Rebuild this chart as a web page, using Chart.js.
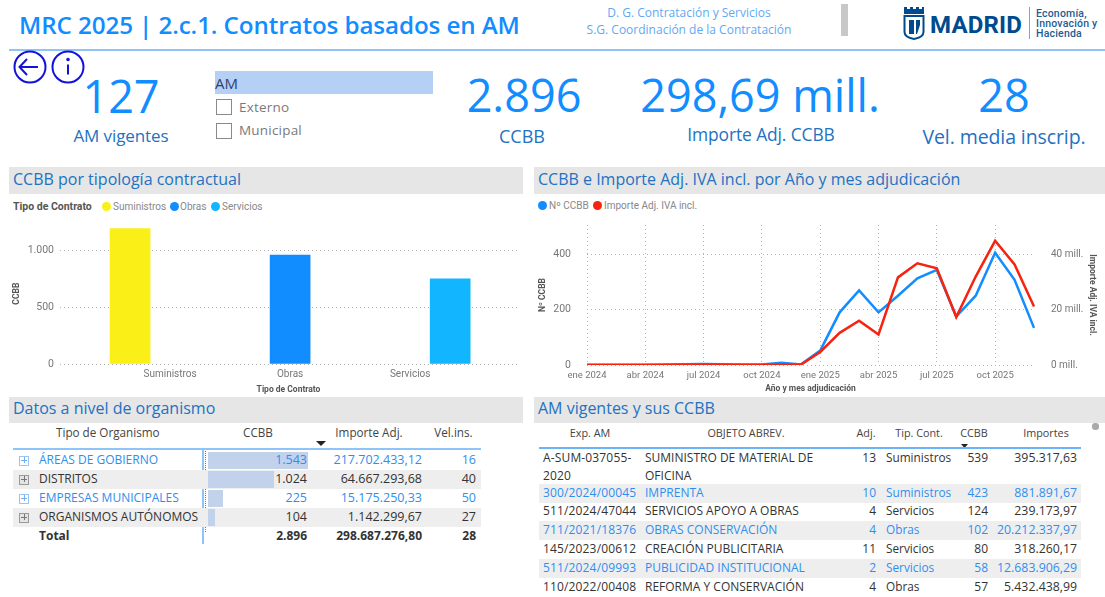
<!DOCTYPE html>
<html lang="es">
<head>
<meta charset="utf-8">
<script src="https://cdn.jsdelivr.net/npm/chart.js@4"></script>
<style>
html,body{margin:0;padding:0;background:#fff;width:1105px;height:597px;overflow:hidden;font-family:"Open Sans",sans-serif}
.t{position:absolute;white-space:nowrap;line-height:1}
.box{position:absolute}
canvas{position:absolute}
</style>
</head>
<body>
<div id="page"></div>
<canvas id="barChart" style="left:8px;top:211px;width:516px;height:185px"></canvas>
<canvas id="lineChart" style="left:530px;top:202px;width:575px;height:194px"></canvas>
<script>
const FONT = '"Open Sans",sans-serif';
const AXISFONT = 'Roboto,sans-serif';

// bar chart
const contractTypes = ['Suministros', 'Obras', 'Servicios'];
const contractCounts = [1190, 957, 749];
const contractColors = ['#FBEF18', '#118DFF', '#12B5FF'];

// line chart
const months = ['ene 2024','feb 2024','mar 2024','abr 2024','may 2024','jun 2024','jul 2024','ago 2024','sep 2024','oct 2024','nov 2024','dic 2024',
                'ene 2025','feb 2025','mar 2025','abr 2025','may 2025','jun 2025','jul 2025','ago 2025','sep 2025','oct 2025','nov 2025','dic 2025'];
const ccbbMonthly = [1,1,1,1,2,3,4,3,2,2,8,2,52,190,269,190,250,313,343,175,250,405,307,134];
const importeMonthly = [0,0,0,0,0,0,0.1,0,0,0,0.1,0.1,4.7,11.6,16,11,31.6,36.7,34.9,17.3,31.9,44.8,36.3,21.1];

// organism table
const orgHeaders = ['Tipo de Organismo','CCBB','Importe Adj.','Vel.ins.'];
const orgNames = ['ÁREAS DE GOBIERNO','DISTRITOS','EMPRESAS MUNICIPALES','ORGANISMOS AUTÓNOMOS'];
const orgCcbb = [1543,1024,225,104];
const orgImporte = ['217.702.433,12','64.667.293,68','15.175.250,33','1.142.299,67'];
const orgVel = [16,40,50,27];
const orgTotal = ['Total','2.896','298.687.276,80','28'];

// AM table
const amHeaders = ['Exp. AM','OBJETO ABREV.','Adj.','Tip. Cont.','CCBB','Importes'];
const amExp = [['A-SUM-037055-','2020'],['300/2024/00045'],['511/2024/47044'],['711/2021/18376'],['145/2023/00612'],['511/2024/09993'],['110/2022/00408']];
const amObj = [['SUMINISTRO DE MATERIAL DE','OFICINA'],['IMPRENTA'],['SERVICIOS APOYO A OBRAS'],['OBRAS CONSERVACIÓN'],['CREACIÓN PUBLICITARIA'],['PUBLICIDAD INSTITUCIONAL'],['REFORMA Y CONSERVACIÓN']];
const amAdj = [13,10,4,4,11,2,4];
const amTip = ['Suministros','Suministros','Servicios','Obras','Servicios','Servicios','Obras'];
const amCcbb = [539,423,124,102,80,58,57];
const amImp = ['395.317,63','881.891,67','239.173,97','20.212.337,97','318.260,17','12.683.906,29','5.432.438,99'];

const page = document.getElementById('page');
function t(text, x, y, o = {}) {
  const e = document.createElement('div');
  e.className = 't';
  e.textContent = text;
  const tx = o.align === 'right' ? '-100%' : o.align === 'center' ? '-50%' : '0';
  e.style.cssText = `left:${x}px;top:${y}px;transform:translate(${tx},-50%);font-size:${o.size||12}px;color:${o.color||'#333'};font-weight:${o.weight||400};font-family:${o.font||FONT};letter-spacing:${o.ls||0}px`;
  page.appendChild(e);
  return e;
}
function box(x, y, w, h, bg, extra = '') {
  const e = document.createElement('div');
  e.className = 'box';
  e.style.cssText = `left:${x}px;top:${y}px;width:${w}px;height:${h}px;background:${bg};${extra}`;
  page.appendChild(e);
  return e;
}
const fmt = n => String(n).replace(/\B(?=(\d{3})+$)/g, '.');
const BLUE = '#118DFF', LBL = '#2272C3', ROWBLUE = '#2E8EF0', BAND = '#EEEEEE', INK = '#333333', RULE = '#8FC4F9';

// header
t('MRC 2025 | 2.c.1. Contratos basados en AM', 19, 25, {size:24.2, weight:600, color:BLUE, ls:-0.1});
t('D. G. Contratación y Servicios', 689, 12.5, {size:12, color:'#5FA8F5', align:'center'});
t('S.G. Coordinación de la Contratación', 689, 29.5, {size:12, color:'#5FA8F5', align:'center'});
box(841, 4, 7, 32, '#C8C8C8');
box(9, 49, 1096, 2, RULE);

// logo
page.insertAdjacentHTML('beforeend', `<svg class="box" style="left:903px;top:6px" width="22" height="34" viewBox="0 0 22 34">
<path d="M1 1h3v2h3V1h3v2h3V1h3v2h3V1h2v7H1z" fill="#004B8D"/>
<path d="M1.5 10h19v16c0 4-4 6-9.500 7-5.500-1-9.500-3-9.500-7z" fill="#fff" stroke="#004B8D" stroke-width="2"/>
<path d="M6 14h5v14H6zM13 14h4v5l-3 9h-1z" fill="#004B8D"/></svg>`);
t('MADRID', 930, 25, {size:24, weight:700, color:'#004B8D', font:'Roboto,sans-serif', ls:0.2});
box(1029, 7, 1, 32, '#7FA6C9');
t('Economía,', 1036, 13.5, {size:10.5, weight:500, color:'#1C5C95', font:'Roboto,sans-serif', ls:0.2});
t('Innovación y', 1036, 24, {size:10.5, weight:500, color:'#1C5C95', font:'Roboto,sans-serif', ls:0.2});
t('Hacienda', 1036, 34, {size:10.5, weight:500, color:'#1C5C95', font:'Roboto,sans-serif', ls:0.2});

// nav buttons
page.insertAdjacentHTML('beforeend', `<svg class="box" style="left:12px;top:50px" width="74" height="36" viewBox="0 0 74 36" fill="none" stroke="#1212D8" stroke-width="2">
<circle cx="18" cy="17" r="15.500"/><path d="M26 17H8M15 9l-7.500 8 7.500 8"/>
<circle cx="56" cy="17" r="15.500"/><path d="M56 14.500v10"/><circle cx="56" cy="9.500" r="0.800" fill="#1212D8"/></svg>`);

// KPIs
t('127', 121, 95, {size:45, color:BLUE, align:'center'});
t('AM vigentes', 121, 135, {size:17, color:LBL, align:'center', ls:-0.1});
t('2.896', 524, 94, {size:45, color:BLUE, align:'center'});
t('CCBB', 522, 136, {size:18, color:LBL, align:'center'});
t('298,69 mill.', 760, 94, {size:45, color:BLUE, align:'center'});
t('Importe Adj. CCBB', 761, 135, {size:17.4, color:LBL, align:'center', ls:-0.1});
t('28', 1004, 94, {size:45, color:BLUE, align:'center'});
t('Vel. media inscrip.', 1004, 137, {size:19.5, color:LBL, align:'center', ls:-0.1});

// slicer
box(215, 71, 218, 23, '#B5D0F5');
t('AM', 215, 83, {size:15, color:'#2E4272'});
box(216, 99, 14, 14, '#fff', 'border:1px solid #8A8A8A');
t('Externo', 239, 108, {size:13.5, color:'#7A7A7A', ls:0.2});
box(216, 123, 14, 14, '#fff', 'border:1px solid #8A8A8A');
t('Municipal', 239, 131, {size:13.5, color:'#7A7A7A', ls:0.2});

// section headers
[[9,167,514,27,'CCBB por tipología contractual'],
 [534,167,571,27,'CCBB e Importe Adj. IVA incl. por Año y mes adjudicación'],
 [9,397,514,26,'Datos a nivel de organismo'],
 [534,397,571,26,'AM vigentes y sus CCBB']].forEach(s => {
  box(s[0], s[1], s[2], s[3], '#E6E6E6');
  t(s[4], s[0] + 4, s[1] + s[3]/2 - (s[1] > 300 ? 2.5 : 1.5), {size:16, color:LBL});
});

// legends
t('Tipo de Contrato', 13, 207, {size:10.5, weight:700, color:'#555', font:AXISFONT});
const legX = [102, 170, 211], legT = [113, 180, 222];
contractTypes.forEach((c, i) => {
  box(legX[i], 202, 9, 9, contractColors[i], 'border-radius:50%');
  t(c, legT[i], 207, {size:10, color:'#888', font:AXISFONT});
});
box(538, 201, 9, 9, BLUE, 'border-radius:50%');
t('Nº CCBB', 549, 206, {size:10, color:'#888', font:AXISFONT});
box(593, 201, 9, 9, '#F5230F', 'border-radius:50%');
t('Importe Adj. IVA incl.', 604, 206, {size:10, color:'#888', font:AXISFONT});

// organism table
const oh = [[56,'left'],[258,'center'],[369,'center'],[453.500,'center']];
orgHeaders.forEach((h, i) => {
  t(h, oh[i][0], 433, {size:11.7, color:'#444', align:oh[i][1]});
});
page.insertAdjacentHTML('beforeend', `<svg class="box" style="left:316px;top:441px" width="11" height="6"><path d="M0 0h10L5 5z" fill="#222"/></svg>`);
box(13, 448, 468, 2, RULE);
box(202, 449, 2, 95, RULE);
box(205, 451, 1, 81, 'none', 'border-left:1px dotted #777');
const orgY = [460, 479, 498, 517];
const barMax = Math.max(...orgCcbb);
orgNames.forEach((n, i) => {
  const odd = i % 2 === 1;
  const c = odd ? INK : ROWBLUE;
  if (odd) box(13, orgY[i] - 9.500, 468, 19, BAND);
  box(208, orgY[i] - 8.500, 99.500 * orgCcbb[i] / barMax, 17, '#C3D2EB');
  box(19, orgY[i] - 4.500, 8, 8, odd ? '#E4E4E4' : '#fff', `border:1px solid ${odd ? '#999' : '#9CC6F2'}`);
  box(21, orgY[i] - 0.500, 6, 1, odd ? '#777' : '#6FB0F0');
  box(23.500, orgY[i] - 3, 1, 6, odd ? '#777' : '#6FB0F0');
  t(n, 39, orgY[i], {size:12, color:c});
  t(fmt(orgCcbb[i]), 307, orgY[i], {size:12.5, color:c, align:'right'});
  t(orgImporte[i], 422, orgY[i], {size:12.5, color:c, align:'right'});
  t(String(orgVel[i]), 476, orgY[i], {size:12.5, color:c, align:'right'});
});
t(orgTotal[0], 39, 536, {size:12, weight:700, color:INK});
t(orgTotal[1], 307, 536, {size:12, weight:700, color:INK, align:'right'});
t(orgTotal[2], 422, 536, {size:12, weight:700, color:INK, align:'right'});
t(orgTotal[3], 476, 536, {size:12, weight:700, color:INK, align:'right'});

// AM table
const ah = [[590,'center'],[746,'center'],[866,'center'],[919,'center'],[974,'center'],[1046,'center']];
amHeaders.forEach((h, i) => t(h, ah[i][0], 433, {size:10.8, color:'#444', align:ah[i][1]}));
page.insertAdjacentHTML('beforeend', `<svg class="box" style="left:961px;top:444px" width="8" height="5"><path d="M0 0h7L3.500 4z" fill="#222"/></svg>`);
box(539, 447, 542, 2, '#6AB4F7');
box(1092, 423, 7, 7, '#AAAAAA', 'border-radius:3px');
const amRowY = [[458, 476], [493], [511], [530], [549], [568], [587]];
amExp.forEach((ex, i) => {
  const y = amRowY[i][0], odd = i % 2 === 1, c = odd ? ROWBLUE : INK;
  if (odd) box(539, y - 9.500, 542, 19, BAND);
  ex.forEach((l, k) => t(l, 543, amRowY[i][k], {size:12, color:c, ls:0.15}));
  amObj[i].forEach((l, k) => t(l, 645, amRowY[i][k], {size:12, color:c}));
  t(String(amAdj[i]), 876, y, {size:12, color:c, align:'right'});
  t(amTip[i], 886, y, {size:11.8, color:c});
  t(String(amCcbb[i]), 988, y, {size:12, color:c, align:'right'});
  t(amImp[i], 1077, y, {size:12.3, color:c, align:'right'});
});

// charts
Chart.defaults.animation = false;
Chart.defaults.responsive = false;
const GRID = '#B4B4B4';
const axisText = {color:'#777', font:{family:AXISFONT, size:10}};
const titleText = {color:'#555', font:{family:AXISFONT, size:8.5, weight:'bold'}};
function size(id, w, h){const c=document.getElementById(id);c.width=w;c.height=h;return c;}

new Chart(size('barChart', 516, 185), {
  type: 'bar',
  data: { datasets: contractTypes.map((c, i) => ({
    label: c,
    data: [{x: i, y: contractCounts[i]}],
    backgroundColor: contractColors[i],
    categoryPercentage: 1,
    barPercentage: 1
  })) },
  options: {
    layout: {padding: {top: 7, right: 7, left: 0, bottom: 0}},
    plugins: {legend: {display: false}, tooltip: {enabled: false}},
    scales: {
      x: {
        type: 'linear', min: -0.917, max: 2.89, offset: false,
        afterBuildTicks: s => { s.ticks = contractTypes.map((_, i) => ({value: i})); },
        afterFit: s => { s.height = 32; },
        ticks: {...axisText, autoSkip: false, maxRotation: 0, padding: 4, callback: v => contractTypes[v]},
        grid: {display: false, offset: false, drawTicks: false},
        border: {display: false},
        title: {display: true, text: 'Tipo de Contrato', ...titleText, padding: {top: 3, bottom: 1}}
      },
      y: {
        min: 0, max: 1237,
        afterBuildTicks: s => { s.ticks = [0, 500, 1000].map(value => ({value})); },
        afterFit: s => { s.width = 52; },
        ticks: {...axisText, font:{family:AXISFONT, size:10.5}, padding: 6, callback: v => fmt(v)},
        grid: {color: GRID, lineWidth: 1, drawTicks: false},
        border: {display: false, dash: [1, 3]},
        title: {display: true, text: 'CCBB', ...titleText, padding: {top: 4, bottom: 0}}
      }
    }
  }
});

new Chart(size('lineChart', 575, 194), {
  type: 'line',
  data: {
    labels: months,
    datasets: [
      {label: 'Nº CCBB', data: ccbbMonthly, borderColor: BLUE, borderWidth: 2.5, pointRadius: 0, tension: 0, yAxisID: 'y', order: 1, borderJoinStyle: 'miter'},
      {label: 'Importe Adj. IVA incl.', data: importeMonthly, borderColor: '#F5230F', borderWidth: 2.5, pointRadius: 0, tension: 0, yAxisID: 'y1', order: 0, borderJoinStyle: 'miter'}
    ]
  },
  options: {
    layout: {padding: {top: 8, right: 0, left: 0, bottom: 0}},
    plugins: {legend: {display: false}, tooltip: {enabled: false}},
    scales: {
      x: {
        type: 'category', offset: false,
        afterFit: s => { s.height = 31; },
        ticks: {...axisText, font:{family:AXISFONT, size:9.5}, autoSkip: false, maxRotation: 0, padding: 5,
          callback: function (v, i) { return i % 3 === 0 ? this.getLabelForValue(v) : null; }},
        grid: {color: GRID, drawTicks: false},
        border: {display: false, dash: [1, 3]},
        title: {display: true, text: 'Año y mes adjudicación', ...titleText, padding: {top: 2, bottom: 2}}
      },
      y: {
        min: 0, max: 505,
        afterBuildTicks: s => { s.ticks = [0, 200, 400].map(value => ({value})); },
        afterFit: s => { s.width = 57; },
        ticks: {...axisText, font:{family:AXISFONT, size:10.5}, padding: 16},
        grid: {color: GRID, drawTicks: false},
        border: {display: false, dash: [1, 3]},
        title: {display: true, text: 'Nº CCBB', ...titleText, padding: {top: 8, bottom: 0}}
      },
      y1: {
        position: 'right', min: 0, max: 50.5,
        afterBuildTicks: s => { s.ticks = [0, 20, 40].map(value => ({value})); },
        afterFit: s => { s.width = 71; },
        ticks: {...axisText, padding: 17, callback: v => v + ' mill.'},
        grid: {display: false, drawTicks: false},
        border: {display: false},
        title: {display: true, text: 'Importe Adj. IVA incl.', ...titleText, padding: {top: 8, bottom: 0}}
      }
    }
  }
});
</script>
</body>
</html>
